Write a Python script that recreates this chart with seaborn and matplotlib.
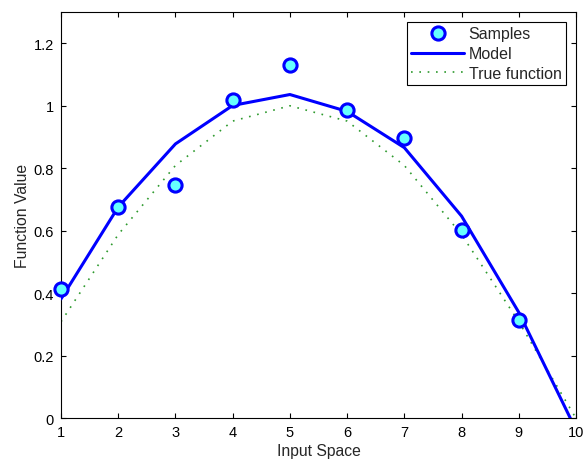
import matplotlib
matplotlib.use("Agg")
import matplotlib.pyplot as plt
import seaborn as sns
import pandas as pd
from matplotlib.lines import Line2D

x_samples = [1, 2, 3, 4, 5, 6, 7, 8, 9]
y_samples = [0.414, 0.676, 0.747, 1.019, 1.131, 0.985, 0.897, 0.603, 0.313]

x_model = [1, 2, 3, 4, 5, 6, 7, 8, 9, 10]
y_model = [0.382, 0.676, 0.878, 1.001, 1.036, 0.982, 0.866, 0.647, 0.339, -0.037]

x_true = [1, 2, 3, 4, 5, 6, 7, 8, 9, 10]
y_true = [0.309, 0.588, 0.809, 0.951, 1.0, 0.951, 0.809, 0.588, 0.309, 0.0]

x_ticks = [1, 2, 3, 4, 5, 6, 7, 8, 9, 10]
y_ticks = [0, 0.2, 0.4, 0.6, 0.8, 1, 1.2]
y_tick_labels = ["0", "0.2", "0.4", "0.6", "0.8", "1", "1.2"]

sns.set_style("ticks")
plt.rcParams["font.family"] = ["Liberation Sans", "DejaVu Sans"]

fig = plt.figure(figsize=(5.85, 4.6), dpi=100)
ax = fig.add_axes([0.1043, 0.0885, 0.8803, 0.8832])

df_model = pd.DataFrame({"x": x_model, "y": y_model})
df_true = pd.DataFrame({"x": x_true, "y": y_true})
df_s = pd.DataFrame({"x": x_samples, "y": y_samples})

sns.lineplot(data=df_true, x="x", y="y", ax=ax, color="#2e9a2e",
             linewidth=1.2, linestyle=(0, (1.0, 4.0)), zorder=2)
sns.lineplot(data=df_model, x="x", y="y", ax=ax, color="#0000ff",
             linewidth=2.2, zorder=3)
ax.plot(x_samples, y_samples, linestyle="none", marker="o", markersize=9.5,
        markerfacecolor="#66ffff", markeredgecolor="#0000ff",
        markeredgewidth=2.2, zorder=4, clip_on=False)

ax.set_xlim(1, 10)
ax.set_ylim(0, 1.3)
ax.set_xticks(x_ticks)
ax.set_xticklabels([str(v) for v in x_ticks])
ax.set_yticks(y_ticks)
ax.set_yticklabels(y_tick_labels)
ax.tick_params(direction="in", top=True, right=True, length=3.5, width=0.8,
               labelsize=10.5, colors="black", pad=5)
for s in ax.spines.values():
    s.set_visible(True)
    s.set_linewidth(0.8)
    s.set_color("black")
ax.set_xlabel("Input Space", fontsize=11.3, labelpad=2.5)
ax.set_ylabel("Function Value", fontsize=11.3, labelpad=3)

handles = [
    Line2D([], [], linestyle="none", marker="o", markersize=9.5,
           markerfacecolor="#66ffff", markeredgecolor="#0000ff", markeredgewidth=2.2),
    Line2D([], [], color="#0000ff", linewidth=2.2),
    Line2D([], [], color="#2e9a2e", linewidth=1.2, linestyle=(0, (1.0, 4.0))),
]
leg = ax.legend(handles, ["Samples", "Model", "True function"], loc="upper right",
                fontsize=11.5, frameon=True, fancybox=False, edgecolor="black",
                framealpha=1, borderpad=0.25, labelspacing=0.3, handlelength=3.3,
                handletextpad=0.3, borderaxespad=0.65)
leg.get_frame().set_linewidth(0.8)

fig.savefig("out.png", dpi=100)
